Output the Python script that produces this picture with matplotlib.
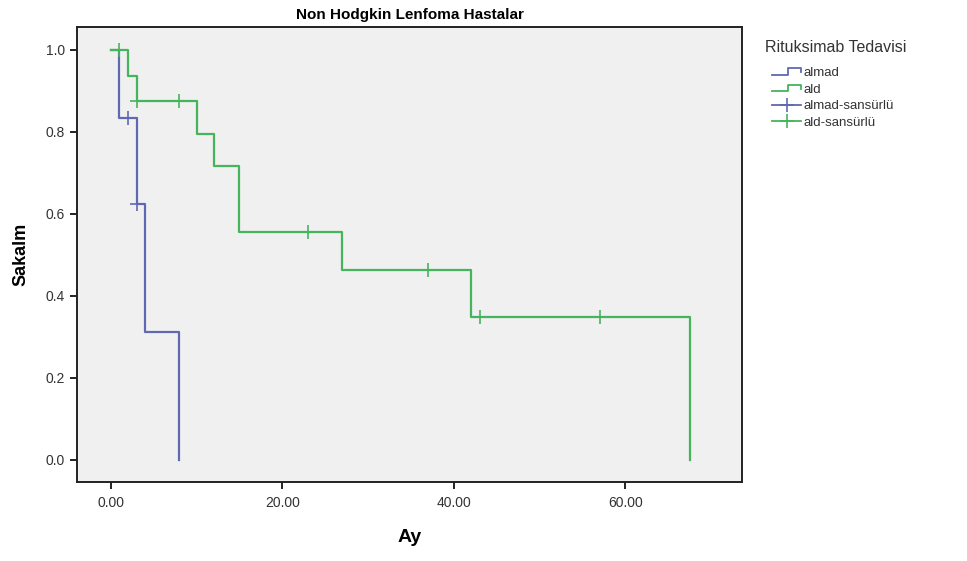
import matplotlib
matplotlib.use("Agg")
import matplotlib.pyplot as plt
from matplotlib.lines import Line2D
from matplotlib.legend_handler import HandlerBase

plt.rcParams['font.family'] = ['Liberation Sans', 'DejaVu Sans']

# ---- data ----
title = "Non Hodgkin Lenfoma Hastalar"
x_label = "Ay"
y_label = "Sakalm"
legend_title = "Rituksimab Tedavisi"
series_names = ["almad", "ald", "almad-sansürlü", "ald-sansürlü"]

almad_time = [0, 1, 3, 4, 8]
almad_surv = [1.0, 0.833, 0.625, 0.3125, 0.0]
almad_cens_time = [2, 3]
almad_cens_surv = [0.833, 0.625]

ald_time = [0, 2, 3, 10, 12, 15, 27, 42, 67.5]
ald_surv = [1.0, 0.9375, 0.875, 0.796, 0.717, 0.557, 0.464, 0.348, 0.0]
ald_cens_time = [1, 3, 8, 23, 37, 43, 57]
ald_cens_surv = [1.0, 0.875, 0.875, 0.557, 0.464, 0.348, 0.348]

x_ticks = [0, 20, 40, 60]
x_tick_labels = ["0.00", "20.00", "40.00", "60.00"]
y_ticks = [0.0, 0.2, 0.4, 0.6, 0.8, 1.0]
y_tick_labels = ["0.0", "0.2", "0.4", "0.6", "0.8", "1.0"]

blue = "#5F69B3"
green = "#46B45C"

W, H = 967, 561
fig = plt.figure(figsize=(W / 100, H / 100), dpi=100)
fig.patch.set_facecolor("white")
ax = fig.add_axes([77 / W, 1 - 482 / H, (742 - 77) / W, (482 - 27) / H])
ax.set_facecolor("#F0F0F0")

ax.step(almad_time, almad_surv, where="post", color=blue, lw=1.6)
ax.step(ald_time, ald_surv, where="post", color=green, lw=1.6)
ax.plot(almad_cens_time, almad_cens_surv, ls="none", marker="+", ms=10,
        mew=1.2, color=blue)
ax.plot(ald_cens_time, ald_cens_surv, ls="none", marker="+", ms=10,
        mew=1.2, color=green)

ax.set_xlim(-3.94, 73.6)
ax.set_ylim(-0.054, 1.056)
ax.set_xticks(x_ticks)
ax.set_xticklabels(x_tick_labels)
ax.set_yticks(y_ticks)
ax.set_yticklabels(y_tick_labels)
ax.tick_params(axis="both", direction="out", length=5, width=1.4,
               colors="#222222", labelsize=10, labelcolor="#333333")
ax.tick_params(axis="x", pad=5)
for s in ax.spines.values():
    s.set_color("#222222")
    s.set_linewidth(1.4)

ax.set_title(title, fontsize=11, fontweight="bold", pad=6)
ax.set_xlabel(x_label, fontsize=14, fontweight="bold", labelpad=14)
ax.set_ylabel(y_label, fontsize=13, fontweight="bold", labelpad=12)


class StepHandler(HandlerBase):
    def create_artists(self, legend, orig_handle, xdescent, ydescent,
                       width, height, fontsize, trans):
        x0, x1 = -xdescent, -xdescent + width
        xm = x0 + 0.55 * width
        yl = -ydescent + 0.15 * height
        yh = -ydescent + 0.85 * height
        ymid = -ydescent + 0.45 * height
        ln = Line2D([x0, xm, xm, x1, x1], [yl, yl, yh, yh, ymid],
                    color=orig_handle.get_color(), lw=1.3, transform=trans)
        return [ln]


fig.text(765 / W, 1 - 47 / H, legend_title, fontsize=11.5, color="#333333",
         va="center", ha="left")

h1 = Line2D([], [], color=blue)
h2 = Line2D([], [], color=green)
h3 = Line2D([], [], color=blue, marker="+", ms=10, mew=1.2, lw=1.3)
h4 = Line2D([], [], color=green, marker="+", ms=10, mew=1.2, lw=1.3)
leg = fig.legend([h1, h2, h3, h4], series_names, loc="upper left",
                 bbox_to_anchor=(772 / W, 1 - 67 / H), frameon=False,
                 fontsize=9.5,
                 handlelength=2.2, handletextpad=0.2,
                 labelspacing=0.32, borderaxespad=0, borderpad=0,
                 handler_map={h1: StepHandler(), h2: StepHandler()})
for t in leg.get_texts():
    t.set_color("#333333")

fig.savefig("out.png", dpi=100)
